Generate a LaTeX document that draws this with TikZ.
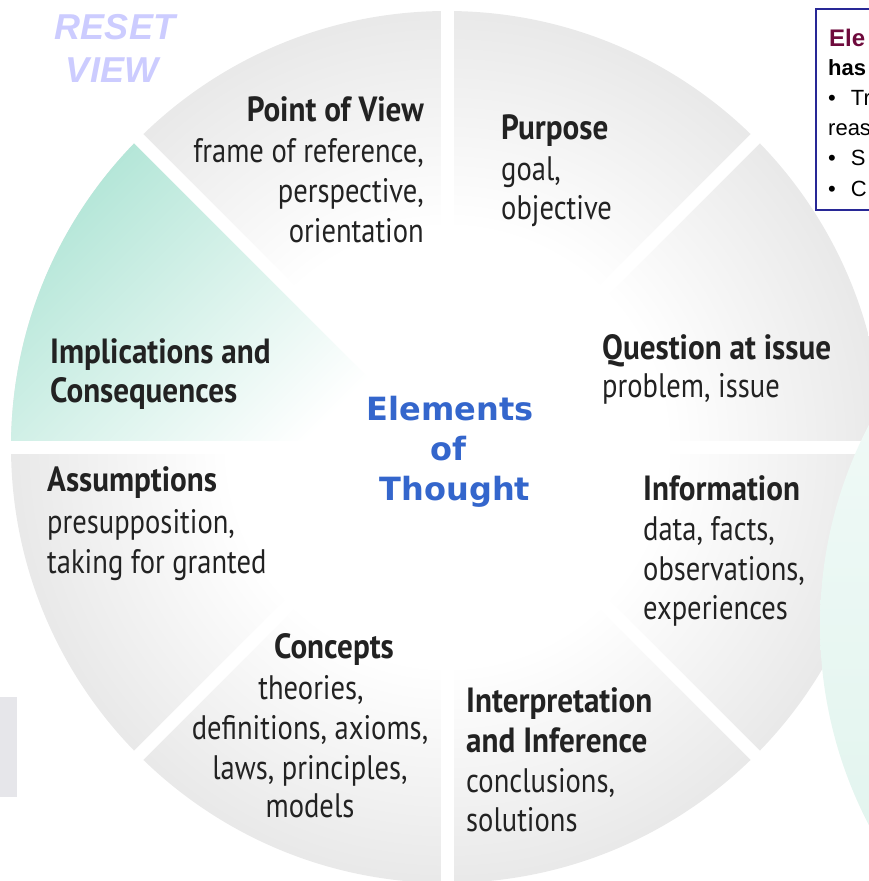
\documentclass[tikz,border=0pt]{standalone}
\usepackage{fontspec}
\setmainfont{PT Sans}
\newfontfamily\wheelfont[FakeStretch=0.84]{PT Sans}
\newfontfamily\wheelboldfont[FakeStretch=0.89]{PT Sans}
\newfontfamily\centerfont{DejaVu Sans}
\newfontfamily\arialfont{Liberation Sans}
\usetikzlibrary{calc}
\definecolor{rimgray}{RGB}{188,188,188}
\definecolor{rimmint}{RGB}{150,220,200}
\definecolor{txtgray}{RGB}{34,34,34}
\definecolor{titleblue}{RGB}{52,102,204}
\definecolor{resetlav}{RGB}{204,204,255}
\definecolor{boxnavy}{RGB}{40,40,150}
\definecolor{boxmaroon}{RGB}{110,10,60}
\definecolor{mintlight}{RGB}{246,252,250}
\definecolor{mintdark}{RGB}{220,242,235}
\definecolor{leftgray}{RGB}{230,230,234}
\pgfdeclareradialshading{grayring}{\pgfpoint{0bp}{0bp}}{color(0bp)=(white); color(12.5bp)=(white); color(50bp)=(rimgray); color(52bp)=(rimgray)}
\pgfdeclareverticalshading{mintaxis}{100bp}{color(0bp)=(white); color(56bp)=(white); color(83bp)=(rimmint); color(100bp)=(rimmint)}
\tikzset{
  wreg/.style={inner sep=0pt, text=txtgray, font=\wheelfont\fontsize{34}{40}\selectfont},
  wbold/.style={inner sep=0pt, text=txtgray, font=\wheelboldfont\bfseries\fontsize{35}{40}\selectfont},
  centertitle/.style={inner sep=0pt, anchor=base, text=titleblue, font=\centerfont\bfseries\fontsize{32}{40}\selectfont},
  resettext/.style={inner sep=0pt, anchor=base, text=resetlav, font=\arialfont\bfseries\itshape\fontsize{36}{36}\selectfont},
  gapline/.style={white, line width=13pt},
  boxbold/.style={inner sep=0pt, anchor=base west, font=\arialfont\bfseries\fontsize{22}{22}\selectfont},
  boxreg/.style={inner sep=0pt, anchor=base west, font=\arialfont\fontsize{22}{22}\selectfont}
}
\begin{document}
\begin{tikzpicture}[x=1pt,y=-1pt]
\useasboundingbox (0,0) rectangle (869,881);
\clip (0,0) rectangle (869,881);
\coordinate (C) at (447,447);
% wheel
\shade[shading=grayring] (C) circle[radius=436pt];
\begin{scope}
  \clip (C) -- ($(C)+(135:700pt)$) -- ($(C)+(180:700pt)$) -- cycle;
  \shade[shading=mintaxis, shading angle=45] (C) circle[radius=436pt];
\end{scope}
\foreach \a in {0,45,...,315} \draw[gapline] (C) -- ($(C)+(\a:470pt)$);
% right pale circle
\shade[top color=mintlight, bottom color=mintdark] (1253,625) circle[radius=433pt];
% left gray tab
\fill[leftgray] (0,697) rectangle (17,797);
% info box
\draw[boxnavy, line width=1.5pt, fill=white] (816,9) rectangle (900,210);
\node[boxbold, text=boxmaroon, font=\arialfont\bfseries\fontsize{24}{24}\selectfont] (b1) at (829,46) {Ele};
\node[boxbold] (b2) at (828,75) {has};
\node[boxreg] (b3) at (828,105) {•\hspace{15pt}Tr};
\node[boxreg] (b4) at (828,135) {reas};
\node[boxreg] (b5) at (828,165) {•\hspace{15pt}S};
\node[boxreg] (b6) at (828,196) {•\hspace{15pt}C};
% reset view
\node[resettext] (reset) at (115,39) {RESET};
\node[resettext] (view) at (112,82) {VIEW};
% center title
\node[centertitle] (el1) at (450,420) {Elements};
\node[centertitle] (el2) at (448,460) {of};
\node[centertitle] (el3) at (455,500) {Thought};
% Point of View
\node[wbold, anchor=base east] (pov1) at (424,121) {Point of View};
\node[wreg, anchor=base east] (pov2) at (424,162) {frame of reference,};
\node[wreg, anchor=base east] (pov3) at (424,202) {perspective,};
\node[wreg, anchor=base east] (pov4) at (424,242) {orientation};
% Purpose
\node[wbold, anchor=base west] (pur1) at (501,139) {Purpose};
\node[wreg, anchor=base west] (pur2) at (501,180) {goal,};
\node[wreg, anchor=base west] (pur3) at (501,219) {objective};
% Question
\node[wbold, anchor=base west] (q1) at (602,359) {Question at issue};
\node[wreg, anchor=base west] (q2) at (602,397) {problem, issue};
% Information
\node[wbold, anchor=base west] (inf1) at (643,500) {Information};
\node[wreg, anchor=base west] (inf2) at (643,540) {data, facts,};
\node[wreg, anchor=base west] (inf3) at (643,580) {observations,};
\node[wreg, anchor=base west] (inf4) at (643,619) {experiences};
% Interpretation
\node[wbold, anchor=base west] (int1) at (466,712) {Interpretation};
\node[wbold, anchor=base west] (int2) at (466,752) {and Inference};
\node[wreg, anchor=base west] (int3) at (466,792) {conclusions,};
\node[wreg, anchor=base west] (int4) at (466,831) {solutions};
% Concepts
\node[wbold, anchor=base] (con1) at (334,658) {Concepts};
\node[wreg, anchor=base] (con2) at (311,699) {theories,};
\node[wreg, anchor=base] (con3) at (310,739) {definitions, axioms,};
\node[wreg, anchor=base] (con4) at (310,779) {laws, principles,};
\node[wreg, anchor=base] (con5) at (310,817) {models};
% Assumptions
\node[wbold, anchor=base west] (as1) at (47,491) {Assumptions};
\node[wreg, anchor=base west] (as2) at (47,533) {presupposition,};
\node[wreg, anchor=base west] (as3) at (47,573) {taking for granted};
% Implications
\node[wbold, anchor=base west] (im1) at (50,363) {Implications and};
\node[wbold, anchor=base west] (im2) at (50,402) {Consequences};
\end{tikzpicture}
\end{document}
